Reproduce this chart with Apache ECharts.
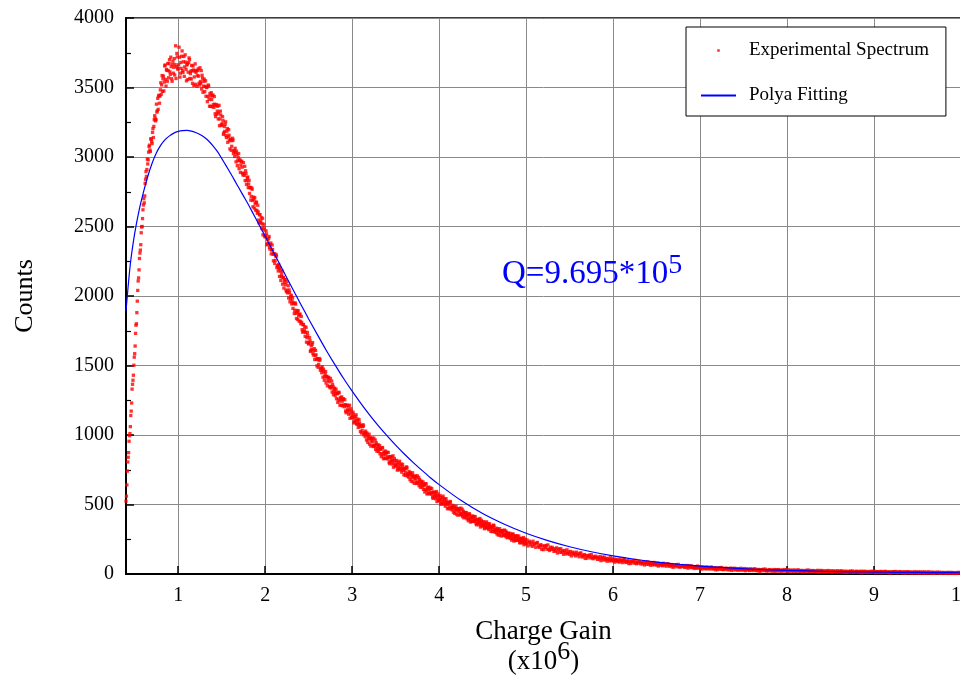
<!DOCTYPE html>
<html><head><meta charset="utf-8">
<script src="https://cdn.jsdelivr.net/npm/echarts@6/dist/echarts.min.js"></script>
<style>html,body{margin:0;padding:0;background:#fff}#c{width:960px;height:677px}</style>
</head><body><div id="c"></div>
<script>
// ---- data ----
const xTicks = [1, 2, 3, 4, 5, 6, 7, 8, 9, 10];
const yTicks = [0, 500, 1000, 1500, 2000, 2500, 3000, 3500, 4000];

// Experimental spectrum: counts per bin, bins start at 0.40 (x10^6), width 0.01
const expStart = 0.40;
const expStep = 0.01;
const expCounts = [
524,641,806,873,995,1060,1172,1330,1394,1502,
1585,1731,1800,1963,2108,2188,2309,2369,2497,2557,
2655,2670,2810,2895,2910,2950,3035,3085,3040,3130,
3096,3204,3220,3297,3260,3380,3332,3343,3444,3438,
3534,3519,3472,3582,3539,3662,3510,3623,3673,3570,
3700,3595,3650,3545,3690,3645,3590,3800,3650,3720,
3635,3790,3575,3680,3725,3620,3685,3580,3735,3630,
3662,3558,3679,3701,3600,3561,3621,3655,3515,3618,
3523,3622,3585,3634,3530,3642,3531,3489,3567,3509,
3560,3508,3437,3503,3435,3510,3365,3440,3463,3362,
3446,3357,3380,3291,3377,3330,3274,3372,3274,3302,
3227,3290,3163,3219,3235,3154,3186,3106,3197,3117,
3128,3048,3118,3122,3042,3004,3032,3042,2938,2996,
2916,2980,2942,2970,2884,2960,2868,2830,2882,2832,
2856,2806,2738,2778,2716,2768,2642,2696,2708,2618,
2674,2595,2605,2526,2586,2540,2489,2559,2475,2490,
2425,2469,2368,2407,2416,2350,2369,2303,2367,2301,
2305,2234,2288,2287,2216,2180,2199,2203,2112,2156,
2085,2134,2099,2118,2043,2102,2022,1986,2026,1980,
2005,1965,1911,1946,1897,1942,1838,1883,1894,1819,
1870,1800,1810,1740,1795,1755,1710,1775,1700,1715,
1655,1700,1601,1641,1652,1587,1608,1543,1609,1544,
1549,1487,1538,1540,1478,1448,1468,1474,1394,1436,
1374,1422,1394,1415,1350,1407,1338,1309,1349,1311,
1337,1306,1261,1298,1258,1303,1214,1259,1274,1210,
1261,1203,1218,1160,1216,1185,1150,1214,1152,1171,
1125,1164,1087,1122,1133,1084,1103,1054,1109,1060,
1067,1014,1062,1065,1013,988,1008,1015,947,986,
934,979,957,978,924,977,919,896,934,903,
929,903,865,899,865,907,829,871,885,831,
877,828,843,794,845,820,791,850,797,816,
776,817,747,784,798,755,776,733,789,746,
756,710,758,764,717,697,719,729,667,708,
663,704,685,705,657,706,654,635,669,643,
667,644,609,640,609,647,576,614,626,578,
618,574,588,544,590,567,542,593,547,563,
527,565,501,535,548,508,529,488,541,500,
510,470,511,517,478,461,479,488,436,470,
431,469,453,471,430,474,429,413,445,422,
443,424,397,423,399,431,374,406,418,378,
414,378,390,354,393,375,354,399,360,375,
346,377,326,354,365,334,350,319,361,330,
338,305,342,347,314,300,317,325,280,311,
280,310,298,313,280,316,280,267,293,275,
294,278,255,278,258,286,237,265,276,242,
273,243,253,223,257,241,224,262,229,242,
218,245,202,226,236,210,225,199,236,211,
219,192,222,227,201,191,204,211,177,201,
175,202,192,205,178,209,179,169,192,177,
192,180,163,181,166,188,151,173,182,156,
181,157,166,142,169,157,144,174,149,159,
141,162,130,149,157,138,149,130,157,138,
144,124,148,152,131,122,134,140,112,133,
114,133,126,136,116,139,117,110,126,116,
128,119,105,120,108,126,96,114,121,101,
121,103,110,92,113,104,94,117,98,106,
93,109,85,99,105,91,100,85,108,93,
98,82,101,105,88,83,91,96,75,91,
76,92,87,95,78,98,80,74,88,79,
90,82,72,84,74,89,65,80,86,69,
86,71,77,63,79,73,65,83,69,75,
64,78,57,70,75,63,71,59,77,65,
68,56,71,74,61,56,63,68,50,63,
50,64,59,67,52,69,54,49,60,54,
61,56,47,57,49,61,42,54,58,46,
58,47,51,40,53,48,41,57,44,50,
41,53,35,46,50,40,46,36,51,41,
46,36,47,50,39,36,41,45,30,41,
32,44,39,45,33,47,34,31,40,34,
42,38,30,39,32,42,26,37,40,29,
41,33,36,27,38,33,28,41,30,35,
29,39,24,33,37,28,33,25,37,29,
33,25,35,37,28,24,30,33,20,30,
22,32,28,34,24,35,25,21,29,24,
32,28,21,28,23,32,18,27,31,21,
32,24,27,19,29,25,21,32,24,28,
21,30,17,25,28,21,26,18,29,22,
26,18,27,29,22,19,24,26,15,23,
16,25,22,27,17,28,19,16,24,20,
25,22,16,22,17,26,13,21,25,16,
25,18,21,14,22,19,15,25,18,21,
16,23,12,19,22,16,20,14,23,17,
20,13,21,22,16,13,18,20,11,18,
12,19,17,20,13,22,14,12,18,15,
20,17,12,18,13,20,9,16,19,12,
19,13,16,10,18,15,12,20,14,17,
12,19,9,15,17,12,16,10,19,13,
16,10,17,19,13,10,14,16,8,14,
9,16,13,17,10,18,11,9,15,12,
16,14,8,14,10,16,7,13,16,9,
16,10,13,7,14,11,8,16,10,13,
8,15,6,12,14,9,13,6,15,9,
12,6,13,15,9,7,11,13,5,11,
6,12,10,12,7,13,7,6,11,8,
11,10,6,10,7,12,4,9,11,6,
11,7,9,4,10,8,6,12,7,10,
8
];
// extra half-bin points (0.405 .. 4.995, width 0.01) where the band is dense
const expMidStart = 0.405;
const expCountsMid = [
560,740,840,955,1010,1140,1230,1365,1430,1560,
1640,1790,1880,2040,2130,2270,2330,2455,2500,2620,
2700,2720,2840,2860,2985,2980,3075,3050,3130,3110,
3177,3140,3268,3279,3269,3323,3422,3439,3387,3483,
3450,3586,3563,3475,3655,3559,3630,3545,3622,3672,
3613,3718,3563,3668,3603,3708,3665,3565,3745,3633,
3663,3718,3603,3638,3763,3608,3723,3648,3683,3548,
3669,3610,3713,3565,3617,3659,3530,3626,3576,3670,
3609,3508,3622,3582,3518,3543,3622,3588,3466,3544,
3470,3548,3500,3398,3518,3415,3456,3365,3413,3440,
3377,3435,3311,3369,3308,3365,3316,3225,3330,3232,
3239,3262,3174,3184,3253,3140,3205,3145,3157,3058,
3127,3077,3135,3025,3047,3063,2965,3017,2973,3025,
2975,2889,2965,2927,2871,2881,2933,2901,2803,2850,
2780,2832,2782,2690,2778,2687,2711,2633,2663,2675,
2615,2653,2546,2584,2527,2564,2519,2440,2516,2431,
2432,2446,2375,2379,2428,2337,2381,2330,2334,2253,
2302,2256,2300,2204,2218,2227,2141,2180,2139,2178,
2132,2057,2116,2081,2030,2035,2074,2044,1958,1998,
1943,1988,1949,1874,1950,1875,1896,1831,1857,1867,
1818,1853,1758,1793,1743,1778,1738,1668,1738,1663,
1663,1678,1609,1614,1665,1575,1621,1571,1577,1497,
1547,1508,1550,1466,1481,1492,1416,1454,1419,1457,
1419,1354,1412,1383,1341,1348,1388,1363,1290,1329,
1283,1329,1298,1235,1308,1245,1269,1214,1243,1256,
1216,1254,1173,1211,1171,1208,1178,1120,1189,1126,
1133,1148,1095,1102,1145,1076,1115,1078,1085,1024,
1067,1034,1074,1001,1017,1028,964,999,971,1006,
975,920,974,951,917,926,964,945,883,920,
882,924,898,844,910,856,878,832,858,872,
839,874,805,840,807,842,817,768,831,778,
785,803,756,767,811,749,790,758,768,714,
758,730,771,705,723,737,679,716,692,728,
700,652,701,682,651,661,695,680,624,659,
625,662,639,590,650,601,621,579,603,615,
584,615,554,585,556,586,565,521,577,529,
536,552,509,518,560,502,541,511,521,470,
511,488,522,467,482,494,445,476,456,488,
464,423,467,451,425,435,466,453,404,437,
408,441,422,383,433,394,411,378,398,410,
386,413,362,389,365,392,374,338,386,347,
353,367,333,342,375,330,361,338,346,307,
340,320,352,304,319,330,288,316,299,326,
307,273,310,297,276,284,310,300,261,287,
264,292,277,243,288,254,270,241,260,270,
249,273,229,253,233,255,241,211,251,218
];

// Polya fitting curve
const fitX = [0.40,0.45,0.50,0.55,0.60,0.65,0.70,0.75,0.80,0.85,0.90,0.95,1.00,1.05,1.10,1.15,1.20,1.25,1.30,1.35,1.40,1.45,1.50,1.55,1.60,1.65,1.70,1.75,1.80,1.85,1.90,1.95,2.00,
2.1,2.2,2.3,2.4,2.5,2.6,2.7,2.8,2.9,3.0,3.1,3.2,3.3,3.4,3.5,3.6,3.7,3.8,3.9,4.0,
4.25,4.5,4.75,5.0,5.25,5.5,5.75,6.0,6.25,6.5,6.75,7.0,7.25,7.5,7.75,8.0,8.25,8.5,8.75,9.0,9.25,9.5,9.75,10.0];
const fitY = [1890,2230,2450,2615,2745,2860,2955,3030,3085,3125,3152,3172,3184,3190,3191,3186,3176,3162,3142,3115,3080,3040,2990,2938,2885,2830,2775,2720,2665,2607,2548,2488,2430,
2310,2190,2070,1952,1835,1722,1612,1508,1408,1315,1228,1145,1067,995,927,863,803,747,693,643,
530,435,358,293,240,196,160,130,106,86,70,57,47,38,31,26,22,18,16,14,12,11,10,9];

const seriesNames = ['Experimental Spectrum', 'Polya Fitting'];
const annotation = {main: 'Q=9.695*10', sup: '5'};

// ---- build ----
const expData = expCounts.map((v, i) => [+(expStart + i * expStep).toFixed(3), v])
  .concat(expCountsMid.map((v, i) => [+(expMidStart + i * expStep).toFixed(3), v]));
const fitData = fitX.map((x, i) => [x, fitY[i]]);

const serif = 'Liberation Serif';
const chart = echarts.init(document.getElementById('c'), null, {renderer: 'canvas'});
chart.setOption({
  animation: false,
  backgroundColor: '#fff',
  textStyle: {fontFamily: serif},
  grid: {left: 126, right: -1, top: 18, bottom: 103, containLabel: false, outerBoundsMode: 'none',
         show: true, borderColor: '#000', borderWidth: 1.5, backgroundColor: 'transparent'},
  legend: {
    orient: 'vertical', left: 686, top: 27,
    padding: [14, 17, 11, 14], itemGap: 26, itemWidth: 35, itemHeight: 14,
    borderColor: '#000', borderWidth: 1, backgroundColor: '#fff',
    selectedMode: false,
    textStyle: {fontFamily: serif, fontSize: 19, color: '#000', padding: [0, 0, 0, 8]},
    data: [
      {name: seriesNames[0], icon: 'path://M0,0L0.01,0M14,14L13.99,14M5.7,5.7h2.6v2.6h-2.6Z', itemStyle: {color: '#ff0000'}},
      {name: seriesNames[1], itemStyle: {opacity: 0, color: 'rgba(0,0,0,0)', borderWidth: 0}}
    ]
  },
  xAxis: {
    type: 'value', min: 0.4, max: 10, splitNumber: 10,
    axisLine: {show: true, onZero: false, lineStyle: {color: '#000', width: 2}},
    axisTick: {show: true, inside: true, length: 8, customValues: xTicks, lineStyle: {color: '#000', width: 1.5}},
    axisLabel: {customValues: xTicks, color: '#000', fontSize: 20, margin: 12, fontFamily: serif,
                formatter: v => String(v)},
    splitLine: {show: true, lineStyle: {color: '#8a8a8a', width: 1}},
    name: 'Charge Gain\n(x10{sup|6})', nameLocation: 'middle', nameGap: 43,
    nameTextStyle: {fontFamily: serif, fontSize: 27, color: '#000', lineHeight: 30,
      rich: {sup: {fontFamily: serif, fontSize: 26, color: '#000', lineHeight: 30, padding: [0, 0, 20, 0]}}}
  },
  yAxis: {
    type: 'value', min: 0, max: 4000, interval: 500,
    axisLine: {show: true, lineStyle: {color: '#000', width: 2}},
    axisTick: {show: true, inside: true, length: 8, lineStyle: {color: '#000', width: 1.5}},
    minorTick: {show: true, splitNumber: 2, length: 5, lineStyle: {color: '#000', width: 1.2}},
    axisLabel: {color: '#000', fontSize: 20, margin: 12, fontFamily: serif, formatter: v => String(v)},
    splitLine: {show: true, lineStyle: {color: '#8a8a8a', width: 1}},
    name: 'Counts', nameLocation: 'middle', nameGap: 88,
    nameTextStyle: {fontFamily: serif, fontSize: 26, color: '#000'}
  },
  series: [
    {type: 'scatter', name: seriesNames[0], data: expData, symbol: 'rect', symbolSize: 3.3,
     itemStyle: {color: '#ff0000'}, z: 2, silent: true, large: false},
    {type: 'line', name: seriesNames[1], data: fitData, symbol: 'none', showSymbol: false, smooth: 0.3,
     lineStyle: {color: '#0000ff', width: 1.2}, itemStyle: {color: '#0000ff'}, z: 3, silent: true}
  ],
  graphic: [{
    type: 'text', left: 502, top: 252, z: 10,
    style: {
      text: annotation.main + '{sup|' + annotation.sup + '}',
      fill: '#0000ff', font: '33px "Liberation Serif"', lineHeight: 38,
      rich: {sup: {fill: '#0000ff', fontFamily: serif, fontSize: 28, lineHeight: 38, padding: [0, 0, 16, 0]}}
    }
  }]
});
</script>
</body></html>
